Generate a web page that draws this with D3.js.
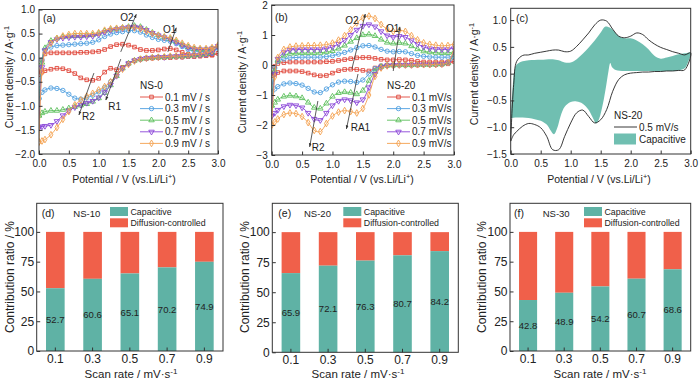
<!DOCTYPE html>
<html><head><meta charset="utf-8">
<script src="https://cdn.jsdelivr.net/npm/d3@7"></script>
<style>body{margin:0;background:#fff} svg{display:block} text{font-family:"Liberation Sans",Arial,sans-serif;fill:#222}</style>
</head><body><svg id="c" width="700" height="382"></svg>
<script>
// ---------- DATA ----------
const potential = [0,0.05,0.1,0.2,0.3,0.4,0.5,0.6,0.7,0.8,0.9,1.0,1.1,1.2,1.3,1.4,1.5,1.6,1.7,1.8,1.9,2.0,2.1,2.2,2.3,2.4,2.5,2.6,2.7,2.8,2.9,3.0];
const scanRates = ["0.1","0.3","0.5","0.7","0.9"];
// NS-0 (a): anodic (upper) and cathodic (lower) branches, at the potential grid
const ns0_01_up = [-0.35,-0.05,0.08,0.1,0.1,0.1,0.1,0.1,0.11,0.11,0.12,0.13,0.17,0.23,0.27,0.28,0.26,0.22,0.17,0.15,0.15,0.16,0.18,0.19,0.16,0.11,0.07,0.05,0.05,0.05,0.06,0.09];
const ns0_03_up = [-0.85,-0.05,0.15,0.22,0.25,0.26,0.27,0.28,0.29,0.3,0.32,0.37,0.44,0.49,0.52,0.54,0.56,0.56,0.53,0.47,0.42,0.38,0.36,0.34,0.29,0.23,0.17,0.14,0.13,0.13,0.15,0.2];
const ns0_05_up = [-1.2,-0.1,0.2,0.35,0.4,0.43,0.44,0.45,0.45,0.46,0.47,0.5,0.55,0.58,0.6,0.62,0.64,0.66,0.64,0.58,0.52,0.47,0.43,0.39,0.33,0.27,0.22,0.18,0.17,0.17,0.19,0.24];
const ns0_07_up = [-1.45,-0.2,0.15,0.32,0.38,0.41,0.42,0.43,0.43,0.44,0.45,0.48,0.53,0.57,0.59,0.61,0.63,0.64,0.62,0.57,0.51,0.46,0.42,0.38,0.32,0.26,0.21,0.18,0.17,0.17,0.19,0.24];
const ns0_09_up = [-1.75,-0.3,0.1,0.3,0.4,0.45,0.48,0.5,0.5,0.5,0.5,0.52,0.57,0.6,0.61,0.62,0.62,0.62,0.6,0.55,0.5,0.46,0.43,0.41,0.36,0.3,0.25,0.21,0.19,0.19,0.21,0.26];
const ns0_01_dn = [-0.35,-0.3,-0.27,-0.24,-0.22,-0.23,-0.27,-0.33,-0.42,-0.46,-0.47,-0.43,-0.3,-0.22,-0.25,-0.2,-0.12,-0.06,-0.03,-0.02,-0.01,0,0,0,0.01,0.01,0.02,0.02,0.03,0.04,0.05,0.09];
const ns0_03_dn = [-0.85,-0.72,-0.67,-0.63,-0.64,-0.68,-0.76,-0.84,-0.86,-0.83,-0.78,-0.71,-0.62,-0.5,-0.36,-0.22,-0.12,-0.06,-0.03,-0.01,0,0.01,0.01,0.02,0.02,0.03,0.03,0.04,0.05,0.06,0.09,0.2];
const ns0_05_dn = [-1.2,-1.15,-1.12,-1.1,-1.1,-1.08,-1.05,-1.02,-0.99,-0.96,-0.91,-0.84,-0.73,-0.57,-0.38,-0.22,-0.12,-0.06,-0.03,-0.01,0,0.01,0.01,0.02,0.03,0.03,0.04,0.05,0.06,0.08,0.11,0.24];
const ns0_07_dn = [-1.45,-1.43,-1.42,-1.4,-1.32,-1.2,-1.1,-1.03,-0.98,-0.94,-0.9,-0.83,-0.72,-0.56,-0.38,-0.22,-0.12,-0.06,-0.03,-0.01,0,0.01,0.01,0.02,0.03,0.03,0.04,0.05,0.06,0.08,0.11,0.24];
const ns0_09_dn = [-1.75,-1.73,-1.7,-1.6,-1.45,-1.28,-1.12,-0.98,-0.88,-0.8,-0.74,-0.67,-0.6,-0.5,-0.36,-0.24,-0.14,-0.07,-0.03,-0.01,0,0.01,0.02,0.03,0.03,0.04,0.05,0.06,0.08,0.1,0.14,0.26];
// NS-20 (b)
const ns20_01_up = [-0.35,-0.05,0.05,0.08,0.1,0.1,0.1,0.1,0.1,0.1,0.11,0.12,0.15,0.18,0.21,0.24,0.25,0.25,0.22,0.19,0.17,0.17,0.18,0.17,0.15,0.12,0.1,0.1,0.1,0.1,0.1,0.12];
const ns20_03_up = [-0.9,-0.1,0.12,0.2,0.24,0.25,0.26,0.26,0.26,0.26,0.28,0.31,0.36,0.42,0.5,0.58,0.64,0.65,0.6,0.52,0.46,0.44,0.45,0.44,0.38,0.32,0.29,0.27,0.26,0.26,0.26,0.28];
const ns20_05_up = [-1.35,-0.2,0.15,0.32,0.38,0.39,0.4,0.4,0.4,0.41,0.43,0.47,0.55,0.65,0.78,0.9,1.0,1.02,0.97,0.85,0.75,0.72,0.74,0.72,0.63,0.53,0.46,0.43,0.41,0.4,0.4,0.42];
const ns20_07_up = [-1.7,-0.3,0.2,0.42,0.5,0.51,0.52,0.52,0.52,0.52,0.55,0.6,0.7,0.83,1.0,1.17,1.3,1.35,1.28,1.12,0.98,0.93,0.96,0.93,0.82,0.7,0.6,0.55,0.53,0.52,0.52,0.55];
const ns20_09_up = [-2.0,-0.4,0.25,0.52,0.6,0.63,0.64,0.65,0.65,0.66,0.68,0.73,0.83,0.98,1.18,1.4,1.57,1.63,1.55,1.35,1.2,1.12,1.15,1.12,0.98,0.84,0.74,0.69,0.66,0.64,0.65,0.68];
const ns20_01_dn = [-0.35,-0.3,-0.25,-0.2,-0.2,-0.2,-0.22,-0.27,-0.33,-0.36,-0.35,-0.27,-0.19,-0.15,-0.14,-0.15,-0.18,-0.2,-0.1,-0.03,-0.01,0,0,0,0,0,0.01,0.01,0.01,0.02,0.04,0.12];
const ns20_03_dn = [-0.9,-0.8,-0.72,-0.63,-0.6,-0.62,-0.67,-0.78,-0.9,-0.92,-0.8,-0.66,-0.57,-0.54,-0.55,-0.58,-0.5,-0.3,-0.12,-0.04,-0.01,0,0,0,0,0.01,0.01,0.01,0.02,0.03,0.06,0.28];
const ns20_05_dn = [-1.35,-1.25,-1.15,-1.05,-1.02,-1.04,-1.1,-1.25,-1.42,-1.45,-1.28,-1.05,-0.93,-0.9,-0.92,-0.97,-0.85,-0.52,-0.22,-0.06,-0.02,-0.01,0,0,0,0.01,0.01,0.01,0.02,0.03,0.07,0.42];
const ns20_07_dn = [-1.7,-1.6,-1.5,-1.38,-1.33,-1.35,-1.42,-1.6,-1.8,-1.84,-1.6,-1.35,-1.2,-1.15,-1.18,-1.25,-1.15,-0.75,-0.3,-0.08,-0.02,-0.01,0,0,0,0.01,0.01,0.01,0.02,0.03,0.08,0.55];
const ns20_09_dn = [-2.0,-1.9,-1.8,-1.65,-1.6,-1.62,-1.72,-1.92,-2.18,-2.22,-1.95,-1.7,-1.57,-1.52,-1.55,-1.6,-1.45,-1.0,-0.38,-0.1,-0.03,-0.01,0,0,0,0.01,0.01,0.01,0.02,0.03,0.08,0.68];
// (c) NS-20, 0.5 mV/s total current and capacitive region
const c05_up = [-1.26,-0.2,0.23,0.34,0.35,0.38,0.4,0.42,0.44,0.44,0.41,0.42,0.51,0.63,0.76,0.91,1.0,0.98,0.83,0.7,0.67,0.7,0.76,0.73,0.63,0.55,0.49,0.45,0.41,0.38,0.35,0.39];
const c05_dn = [-1.26,-1.14,-1.08,-0.98,-0.93,-0.95,-1.01,-1.17,-1.42,-1.42,-1.17,-0.92,-0.73,-0.68,-0.8,-0.92,-0.86,-0.67,-0.33,-0.11,-0.02,0.01,0.02,0.03,0.03,0.04,0.04,0.05,0.05,0.06,0.07,0.39];
const capUpV = [0,0.03,0.06,0.1,0.2,0.3,0.5,0.7,0.8,0.9,1.0,1.1,1.2,1.3,1.4,1.5,1.58,1.65,1.7,1.8,1.9,2.0,2.1,2.2,2.3,2.4,2.5,2.6,2.7,2.8,2.9,3.0];
const capUpI = [-0.83,-0.3,0.05,0.17,0.23,0.25,0.26,0.27,0.25,0.21,0.21,0.27,0.37,0.49,0.62,0.77,0.88,0.86,0.82,0.7,0.66,0.66,0.62,0.55,0.45,0.33,0.28,0.3,0.33,0.36,0.38,0.39];
const capDnV = [3.0,2.95,2.9,2.8,2.5,2.2,1.9,1.75,1.69,1.66,1.63,1.58,1.52,1.46,1.42,1.38,1.3,1.2,1.1,1.0,0.9,0.83,0.78,0.72,0.66,0.6,0.5,0.4,0.3,0.2,0.1,0];
const capDnI = [0.39,0.2,0.1,0.06,0.05,0.05,0.05,0.07,0.12,0.2,0.05,-0.3,-0.65,-0.88,-0.93,-0.85,-0.68,-0.56,-0.52,-0.53,-0.62,-0.8,-1.0,-1.13,-1.05,-0.95,-0.88,-0.85,-0.83,-0.82,-0.82,-0.83];
// bars (d)(e)(f): capacitive contribution, %
const barRates = ["0.1","0.3","0.5","0.7","0.9"];
const ns10Cap = [52.7,60.6,65.1,70.2,74.9];
const ns20Cap = [65.9,72.1,76.3,80.7,84.2];
const ns30Cap = [42.8,48.9,54.2,60.7,68.6];
// ticks
const cvXTicks = [0,0.5,1,1.5,2,2.5,3];
const aYTicks = [-2,-1.5,-1,-0.5,0,0.5,1];
const bYTicks = [-3,-2,-1,0,1,2];
const cYTicks = [-1.5,-1,-0.5,0,0.5,1];
const barYTicks = [0,25,50,75,100];

// ---------- STYLE ----------
const seriesColors = ["#e0463a","#4f9fe0","#5cbf5c","#8a45d8","#f4a04e"];
const shapes = [d3.symbolSquare,d3.symbolCircle,d3.symbolTriangle,d3.symbolTriangle,d3.symbolDiamond];
const rot = [0,0,0,180,0];
const capColor = "#5fb2a5", difColor = "#f0604a", capFill = "#70bfb1";
const svg = d3.select("#c");
const defs = svg.append("defs");
defs.append("marker").attr("id","arr").attr("viewBox","0 0 10 10").attr("refX",9).attr("refY",5)
  .attr("markerWidth",5).attr("markerHeight",5).attr("orient","auto")
  .append("path").attr("d","M0,1.5 L10,5 L0,8.5 Z").attr("fill","#333");

function richText(sel, base, supTxt, tail){
  sel.append("tspan").text(base);
  sel.append("tspan").attr("baseline-shift","super").attr("font-size","70%").text(supTxt);
  if (tail) sel.append("tspan").text(tail);
}
function frame(g, geo, x, y, xTicks, yTicks, xFmt, yFmt, fs, xpad, ypad){
  const ax = g.append("g").attr("transform",`translate(0,${geo.y1})`)
    .call(d3.axisBottom(x).tickValues(xTicks).tickFormat(xFmt).tickSizeInner(-3.5).tickSizeOuter(0).tickPadding(xpad));
  const ay = g.append("g").attr("transform",`translate(${geo.x0},0)`)
    .call(d3.axisLeft(y).tickValues(yTicks).tickFormat(yFmt).tickSizeInner(-3.5).tickSizeOuter(0).tickPadding(ypad));
  [ax,ay].forEach(a=>{a.select(".domain").remove(); a.attr("font-family",null).attr("font-size",fs);
    a.selectAll("line").attr("stroke","#333"); a.selectAll("text").attr("fill","#222");});
  g.append("rect").attr("x",geo.x0).attr("y",geo.y0).attr("width",geo.x1-geo.x0).attr("height",geo.y1-geo.y0)
    .attr("fill","none").attr("stroke","#333").attr("stroke-width",1);
}
const f1 = d3.format(".1f"), f0 = d3.format("d");

function cvPanel(id, geo, ups, dns, yTicks, yFmt, ann, legend){
  const g = svg.append("g");
  const x = d3.scaleLinear([0,3],[geo.x0,geo.x1]);
  const y = d3.scaleLinear(geo.ydom,[geo.y1,geo.y0]);
  defs.append("clipPath").attr("id","clip"+id).append("rect")
    .attr("x",geo.x0).attr("y",geo.y0).attr("width",geo.x1-geo.x0).attr("height",geo.y1-geo.y0);
  const pg = g.append("g").attr("clip-path",`url(#clip${id})`);
  const line = d3.line().x(d=>x(d[0])).y(d=>y(d[1])).curve(d3.curveCatmullRom.alpha(0.5));
  ups.forEach((up,k)=>{
    const pts = potential.map((v,i)=>[v,up[i]]).concat(potential.map((v,i)=>[v,dns[k][i]]).reverse().slice(1));
    pg.append("path").attr("d",line(pts)).attr("fill","none").attr("stroke",seriesColors[k]).attr("stroke-width",0.9);
    const sym = d3.symbol().type(shapes[k]).size(k===1?15:13);
    pg.selectAll(null).data(pts).join("path").attr("d",sym)
      .attr("transform",d=>`translate(${x(d[0])},${y(d[1])}) rotate(${rot[k]})`)
      .attr("fill","none").attr("stroke",seriesColors[k]).attr("stroke-width",0.9);
  });
  frame(g, geo, x, y, cvXTicks, yTicks, f1, yFmt, 10, 6, 4);
  // annotations (in data units)
  ann.arrows.forEach(a=>{
    g.append("line").attr("x1",x(a[0])).attr("y1",y(a[1])).attr("x2",x(a[2])).attr("y2",y(a[3]))
      .attr("stroke","#333").attr("stroke-width",0.8).attr("marker-end","url(#arr)");
  });
  ann.labels.forEach(l=>{
    g.append("text").attr("x",x(l[1])).attr("y",y(l[2])).attr("font-size",10).text(l[0]);
  });
  g.append("text").attr("x",ann.panel[1]).attr("y",ann.panel[2]).attr("font-size",10.5).text(ann.panel[0]);
  // legend
  if (legend){
    g.append("text").attr("x",legend.x).attr("y",legend.y0-12+3.5).attr("font-size",10).text(legend.title);
    legend.labels.forEach((t,k)=>{
      const yy = legend.y0 + k*11.6;
      g.append("line").attr("x1",legend.x).attr("x2",legend.x+23).attr("y1",yy).attr("y2",yy)
        .attr("stroke",seriesColors[k]).attr("stroke-width",0.9);
      g.append("path").attr("d",d3.symbol().type(shapes[k]).size(k===1?15:13))
        .attr("transform",`translate(${legend.x+11.5},${yy}) rotate(${rot[k]})`)
        .attr("fill","none").attr("stroke",seriesColors[k]).attr("stroke-width",0.9);
      g.append("text").attr("x",legend.x+25).attr("y",yy+3.6).attr("font-size",10).text(t);
    });
  }
  // axis titles
  richText(g.append("text").attr("x",geo.xt).attr("y",183).attr("text-anchor","middle").attr("font-size",10.5),
    "Potential / V (vs.Li/Li","+",")");
  richText(g.append("text").attr("transform",`translate(${geo.yx},${geo.yc}) rotate(-90)`).attr("dy","0.35em")
    .attr("text-anchor","middle").attr("font-size",10.5), "Current density / A·g","-1");
  return {g,x,y};
}

// (a)
cvPanel("a",{x0:39,x1:218,y0:9.5,y1:154,ydom:[-2,1],xt:124,yx:9,yc:77},
  [ns0_01_up,ns0_03_up,ns0_05_up,ns0_07_up,ns0_09_up],[ns0_01_dn,ns0_03_dn,ns0_05_dn,ns0_07_dn,ns0_09_dn],
  aYTicks,f1,
  {arrows:[[1.37,0.12,1.63,0.9],[2.16,0.12,2.3,0.62],[1.37,-0.03,1.12,-0.88],[0.92,-0.32,0.67,-1.19]],
   labels:[["O2",1.36,0.76],["O1",2.08,0.51],["R1",1.16,-1.085],["R2",0.72,-1.3]],
   panel:["(a)",43,22]},
  {x:140,y0:97,title:"NS-0",labels:scanRates.map(r=>r+" mV / s")});
// (b)
cvPanel("b",{x0:271.7,x1:454,y0:5,y1:155,ydom:[-3,2],xt:362,yx:242,yc:82},
  [ns20_01_up,ns20_03_up,ns20_05_up,ns20_07_up,ns20_09_up],[ns20_01_dn,ns20_03_dn,ns20_05_dn,ns20_07_dn,ns20_09_dn],
  bYTicks,f0,
  {arrows:[[1.32,-0.13,1.54,1.7],[2.0,-0.2,2.11,1.27],[1.42,-0.3,1.23,-2.13],[0.76,-1.2,0.625,-2.73]],
   labels:[["O2",1.21,1.37],["O1",1.88,1.1],["RA1",1.3,-2.2],["R2",0.66,-2.87]],
   panel:["(b)",275,21]},
  {x:387,y0:97,title:"NS-20",labels:scanRates.map(r=>r+" mV/s")});
// (c)
(function(){
  const geo = {x0:510.7,x1:690.7,y0:8.3,y1:154,ydom:[-1.5,1.22]};
  const g = svg.append("g");
  const x = d3.scaleLinear([0,3],[geo.x0,geo.x1]);
  const y = d3.scaleLinear(geo.ydom,[geo.y1,geo.y0]);
  const line = d3.line().x(d=>x(d[0])).y(d=>y(d[1])).curve(d3.curveCatmullRom.alpha(0.5));
  const cap = capUpV.map((v,i)=>[v,capUpI[i]]).concat(capDnV.map((v,i)=>[v,capDnI[i]]).slice(1));
  g.append("path").attr("d",line(cap)+"Z").attr("fill",capFill).attr("stroke","none");
  const tot = potential.map((v,i)=>[v,c05_up[i]]).concat(potential.map((v,i)=>[v,c05_dn[i]]).reverse().slice(1));
  g.append("path").attr("d",line(tot)).attr("fill","none").attr("stroke","#222").attr("stroke-width",0.9);
  frame(g, geo, x, y, cvXTicks, cYTicks, f1, f1, 10, 6, 4);
  g.append("text").attr("x",516).attr("y",22).attr("font-size",10.5).text("(c)");
  g.append("text").attr("x",614).attr("y",118.5).attr("font-size",10).text("NS-20");
  g.append("line").attr("x1",614).attr("x2",637).attr("y1",127).attr("y2",127).attr("stroke","#222").attr("stroke-width",0.9);
  g.append("text").attr("x",639).attr("y",130.5).attr("font-size",10).text("0.5 mV/s");
  g.append("rect").attr("x",614).attr("y",133.5).attr("width",22).attr("height",11).attr("fill",capFill);
  g.append("text").attr("x",639).attr("y",143).attr("font-size",10).text("Capacitive");
  richText(g.append("text").attr("x",599).attr("y",183).attr("text-anchor","middle").attr("font-size",10.5),
    "Potential / V (vs.Li/Li","+",")");
  richText(g.append("text").attr("transform",`translate(474,74) rotate(-90)`).attr("dy","0.35em")
    .attr("text-anchor","middle").attr("font-size",10.5), "Current density / A·g","-1");
})();

// bars
function barPanel(geo, cap, name, tag, lg){
  const g = svg.append("g");
  const x = d3.scaleBand(barRates,[geo.x0,geo.x1]).paddingInner(0.5).paddingOuter(0.25);
  const y = d3.scaleLinear([0,124],[geo.y1,geo.y0]);
  g.selectAll(null).data(cap).join("rect").attr("x",(d,i)=>x(barRates[i])).attr("width",x.bandwidth())
    .attr("y",d=>y(100)).attr("height",d=>y(d)-y(100)).attr("fill",difColor);
  g.selectAll(null).data(cap).join("rect").attr("x",(d,i)=>x(barRates[i])).attr("width",x.bandwidth())
    .attr("y",d=>y(d)).attr("height",d=>y(0)-y(d)).attr("fill",capColor);
  g.selectAll(null).data(cap).join("text").attr("x",(d,i)=>x(barRates[i])+x.bandwidth()/2)
    .attr("y",d=>y(d/2)).attr("dy","0.35em").attr("text-anchor","middle").attr("font-size",9.5).text(d=>d.toFixed(1));
  frame(g, geo, x, y, barRates, barYTicks, d=>d, f0, 12, 3.3, 2.5);
  g.append("text").attr("x",tag[1]).attr("y",217).attr("font-size",10.5).text(tag[0]);
  g.append("text").attr("x",tag[2]).attr("y",217).attr("font-size",9.5).text(name);
  g.append("rect").attr("x",lg).attr("y",207).attr("width",18).attr("height",9).attr("fill",capColor);
  g.append("rect").attr("x",lg).attr("y",218.3).attr("width",18).attr("height",9).attr("fill",difColor);
  g.append("text").attr("x",lg+20.5).attr("y",214.8).attr("font-size",8.8).text("Capacitive");
  g.append("text").attr("x",lg+20.5).attr("y",226).attr("font-size",8.8).text("Diffusion-controlled");
  richText(g.append("text").attr("x",geo.xt).attr("y",378.2).attr("text-anchor","middle").attr("font-size",11.5),
    "Scan rate / mV·s","-1");
  g.append("text").attr("transform",`translate(${geo.yx},277) rotate(-90)`).attr("dy","0.35em")
    .attr("text-anchor","middle").attr("font-size",12).text("Contribution ratio / %");
}
barPanel({x0:36.7,x1:223,y0:203.3,y1:351,yx:10,xt:131},ns10Cap,"NS-10",["(d)",41.7,73.3],110);
barPanel({x0:272.3,x1:458.3,y0:203.3,y1:352.3,yx:245,xt:358},ns20Cap,"NS-20",["(e)",278.3,304],343.3);
barPanel({x0:510,x1:690.7,y0:203.3,y1:351,yx:482,xt:600},ns30Cap,"NS-30",["(f)",514,542.7],584);
</script></body></html>
